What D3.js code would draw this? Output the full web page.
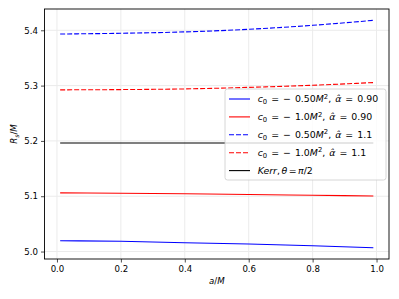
<!DOCTYPE html>
<html><head><meta charset="utf-8">
<script src="https://cdn.jsdelivr.net/npm/d3@7"></script>
<style>
body{margin:0;background:#fff;}
text{font-family:"DejaVu Sans",sans-serif;}
</style></head>
<body><svg id="c" width="399" height="299"></svg>
<script>
const aValues = [0.01, 0.2, 0.4, 0.6, 0.8, 0.99];
const blueSolid = [5.0195, 5.0185, 5.0160, 5.0135, 5.0105, 5.0068];
const redSolid = [5.1060, 5.1055, 5.1045, 5.1032, 5.1018, 5.1005];
const blueDashed = [5.3933, 5.3946, 5.3971, 5.4018, 5.4090, 5.4180];
const redDashed = [5.2923, 5.2928, 5.2940, 5.2968, 5.3006, 5.3055];
const kerr = [5.1962, 5.1962, 5.1962, 5.1962, 5.1962, 5.1962];
const xTicks = [0.0, 0.2, 0.4, 0.6, 0.8, 1.0];
const yTicks = [5.0, 5.1, 5.2, 5.3, 5.4];
const c0Labels = ["−0.50", "−1.0", "−0.50", "−1.0"];
const alphaLabels = ["0.90", "0.90", "1.1", "1.1"];

const series = [
  {vals: blueSolid, color: "#0000ff", dash: null},
  {vals: redSolid, color: "#ff0000", dash: null},
  {vals: blueDashed, color: "#0000ff", dash: "5,2"},
  {vals: redDashed, color: "#ff0000", dash: "5,2"},
  {vals: kerr, color: "#000000", dash: null}
];

const svg = d3.select("#c");
const L = 44.5, R = 389, T = 9, B = 259;
const x = d3.scaleLinear().domain([-0.039, 1.039]).range([L, R]);
const y = d3.scaleLinear().domain([4.9865, 5.4385]).range([B, T]);

// grid
const g = svg.append("g");
g.selectAll(".gx").data(xTicks).join("line")
  .attr("x1", d => x(d)).attr("x2", d => x(d)).attr("y1", T).attr("y2", B)
  .attr("stroke", "#ebebeb").attr("stroke-width", 1);
g.selectAll(".gy").data(yTicks).join("line")
  .attr("y1", d => y(d)).attr("y2", d => y(d)).attr("x1", L).attr("x2", R)
  .attr("stroke", "#ebebeb").attr("stroke-width", 1);

// lines
const line = d3.line().x((d, i) => x(aValues[i])).y(d => y(d)).curve(d3.curveMonotoneX);
series.forEach(s => {
  svg.append("path").attr("d", line(s.vals)).attr("fill", "none")
    .attr("stroke", s.color).attr("stroke-width", 1.1)
    .attr("stroke-dasharray", s.dash);
});

// axes
const xAxis = d3.axisBottom(x).tickValues(xTicks).tickFormat(d3.format(".1f")).tickSizeOuter(0).tickSize(3.5).tickPadding(3);
const yAxis = d3.axisLeft(y).tickValues(yTicks).tickFormat(d3.format(".1f")).tickSizeOuter(0).tickSize(3.5).tickPadding(3);
const gx = svg.append("g").attr("transform", `translate(0,${B})`).call(xAxis);
const gy = svg.append("g").attr("transform", `translate(${L},0)`).call(yAxis);
[gx, gy].forEach(a => {
  a.select(".domain").remove();
  a.selectAll("text").attr("font-size", 8.6).attr("font-family", "DejaVu Sans").attr("fill", "#000");
  a.selectAll("line").attr("stroke", "#000").attr("stroke-width", 0.7);
});
svg.append("rect").attr("x", L).attr("y", T).attr("width", R - L).attr("height", B - T)
  .attr("fill", "none").attr("stroke", "#000").attr("stroke-width", 0.9);

// axis labels
const xl = svg.append("text").attr("x", (L + R) / 2).attr("y", 284).attr("text-anchor", "middle").attr("font-size", 8.6);
xl.append("tspan").attr("font-style", "italic").text("a");
xl.append("tspan").text("/");
xl.append("tspan").attr("font-style", "italic").text("M");
const yl = svg.append("text").attr("transform", `translate(17,${(T + B) / 2}) rotate(-90)`).attr("text-anchor", "middle").attr("font-size", 8.6);
yl.append("tspan").attr("font-style", "italic").text("R");
yl.append("tspan").attr("font-style", "italic").attr("font-size", 6.2).attr("dy", 2).text("s");
yl.append("tspan").attr("dy", -2).text("/");
yl.append("tspan").attr("font-style", "italic").text("M");

// legend
const fs = 9.4, sfs = 6.8, gap = 4;
const lg = svg.append("g");
lg.append("rect").attr("x", 225).attr("y", 89).attr("width", 161).attr("height", 91).attr("rx", 2.5)
  .attr("fill", "#fff").attr("fill-opacity", 0.8).attr("stroke", "#cccccc").attr("stroke-width", 0.8);
series.forEach((s, i) => {
  const cy = 99 + i * 17.9;
  lg.append("line").attr("x1", 229).attr("x2", 250).attr("y1", cy).attr("y2", cy)
    .attr("stroke", s.color).attr("stroke-width", 1.1).attr("stroke-dasharray", s.dash);
  const t = lg.append("text").attr("x", 257.7).attr("y", cy + 3.4).attr("font-size", fs);
  if (i < 4) {
    t.append("tspan").attr("font-style", "italic").text("c");
    t.append("tspan").attr("font-size", sfs).attr("dy", 2).text("0");
    t.append("tspan").attr("dy", -2).attr("dx", gap).text("=");
    t.append("tspan").attr("dx", gap).text(c0Labels[i][0]);
    t.append("tspan").attr("dx", gap).text(c0Labels[i].slice(1));
    t.append("tspan").attr("font-style", "italic").text("M");
    t.append("tspan").attr("font-size", sfs).attr("dy", -3.8).text("2");
    t.append("tspan").attr("dy", 3.8).text(",");
    t.append("tspan").attr("dx", gap).attr("font-style", "italic").text("α\u0302");
    t.append("tspan").attr("dx", gap).text("=");
    t.append("tspan").attr("dx", gap).text(alphaLabels[i]);
  } else {
    t.append("tspan").attr("font-style", "italic").text("Kerr");
    t.append("tspan").text(",");
    t.append("tspan").attr("dx", 1.6).attr("font-style", "italic").text("θ");
    t.append("tspan").attr("dx", 1.4).text("=");
    t.append("tspan").attr("dx", 1.4).attr("font-style", "italic").text("π");
    t.append("tspan").text("/2");
  }
});
</script></body></html>
